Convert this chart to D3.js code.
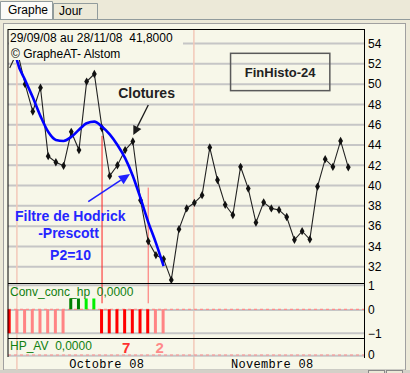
<!DOCTYPE html>
<html><head><meta charset="utf-8">
<script src="https://cdn.jsdelivr.net/npm/d3@7"></script>
<style>html,body{margin:0;padding:0;background:#ece9d8;overflow:hidden}svg{display:block}</style>
</head><body>
<svg id="c" width="410" height="373"></svg>
<script>
// ---------- data ----------
const closes = [51.6, 53.2, 50.0, 47.3, 49.65, 42.9, 42.3, 41.95, 45.3, 43.5,
  50.25, 51.0, 45.65, 40.95, 42.0, 43.5, 44.35, 38.55, 34.5, 33.15,
  32.75, 30.7, 35.7, 37.75, 38.3, 39.05, 43.75, 40.55, 38.1, 37.1,
  41.85, 39.7, 36.35, 38.35, 37.75, 37.6, 36.9, 34.65, 35.5, 34.7,
  39.9, 42.6, 41.85, 44.4, 41.8];
const hpFilter = [56.4, 52.2, 50.4, 48.7, 46.85, 45.3, 44.5, 44.4, 44.8, 45.5,
  46.15, 46.3, 45.8, 45.05, 44.0, 42.7, 40.95, 38.75, 36.4, 34.35, 32.05];
const convValues = [-1, -1, -1, -1, -1, -1, -1, -1, 0.45, 0.45, 0.45, 0.45,
  -1, -1, -1, -1, -1, -1, -1, -1, -1];
const convStrong = [1, 0, 0, 0, 0, 0, 0, 0, 1, 1, 0, 0, 1, 1, 1, 1, 1, 1, 1, 0, 0];
const signalIdx = [12, 18];
const signalTop = [44.9, 39.8];
const signalBottom = [0.25, 0.25];
const mainTicks = [32, 34, 36, 38, 40, 42, 44, 46, 48, 50, 52, 54];
const panel1Ticks = [1, 0, -1];
const panel2Ticks = [0];
const monthLabels = ["Octobre 08", "Novembre 08"];
const monthStart = [2, 25];
const monthEnd = [24, 44];
const monthSeparators = [1, 24];
const hpAvLabels = ["7", "2"];
const hpAvPos = [15.15, 19.5];

// ---------- geometry ----------
const L = 8, R = 364, T = 29, mainB = 283, p1B = 338, p2B = 357, rowB = 370;
const cream = "#f7f7e9";
const svg = d3.select("#c");
const x = d3.scaleLinear().domain([0, 44]).range([9.7, 348.3]);
const yM = d3.scaleLinear().domain([32, 44]).range([266.7, 145]);
const y1 = d3.scaleLinear().domain([-1, 1]).range([333.3, 285.3]);
const y2 = d3.scaleLinear().domain([0, 1]).range([355, 331]);
const FONT = "'Liberation Sans', Arial, sans-serif";

// background & tabs
svg.append("rect").attr("width", 410).attr("height", 373).attr("fill", "#ece9d8");
svg.append("path").attr("d", "M0.5,19 V1.5 H52.5 V19").attr("fill", "#fbfbf8").attr("stroke", "#919b9c");
svg.append("path").attr("d", "M53.5,19 V3.5 H97.5 V19").attr("fill", "#ece9d8").attr("stroke", "#919b9c");
svg.append("text").attr("x", 8).attr("y", 13.5).text("Graphe").attr("font-family", FONT).attr("font-size", 12).attr("fill", "#000");
svg.append("text").attr("x", 59).attr("y", 14.5).text("Jour").attr("font-family", FONT).attr("font-size", 12).attr("fill", "#000");
svg.append("rect").attr("x", 0).attr("y", 19).attr("width", 410).attr("height", 4).attr("fill", "#ece9d8");
svg.append("line").attr("x1", 0).attr("x2", 410).attr("y1", 19.5).attr("y2", 19.5).attr("stroke", "#919b9c");
svg.append("rect").attr("x", 3.5).attr("y", 23.5).attr("width", 402).attr("height", rowB - 23.5)
  .attr("fill", cream).attr("stroke", "#a0a0a0");
svg.append("rect").attr("x", 0).attr("y", rowB).attr("width", 410).attr("height", 3).attr("fill", "#d4d0c8");
svg.append("rect").attr("x", 368.5).attr("y", rowB + 0.5).attr("width", 16).attr("height", 3).attr("fill", "#ece9d8").attr("stroke", "#888");
svg.append("rect").attr("x", 386.5).attr("y", rowB + 0.5).attr("width", 16).attr("height", 3).attr("fill", "#ece9d8").attr("stroke", "#888");

// gridlines main
svg.append("g").selectAll("line").data(mainTicks).join("line")
  .attr("x1", L).attr("x2", R).attr("y1", d => yM(d)).attr("y2", d => yM(d))
  .attr("stroke", "#c6c6c6").attr("stroke-width", 2);

// month separators
svg.append("g").selectAll("line").data(monthSeparators).join("line")
  .attr("x1", d => x(d) - 0.5).attr("x2", d => x(d) - 0.5).attr("y1", T).attr("y2", rowB)
  .attr("stroke", "#f3c9b9").attr("stroke-width", 1.5);

// panel gridlines
[1, -1].forEach(v => {
  svg.append("line").attr("x1", L).attr("x2", R).attr("y1", y1(v)).attr("y2", y1(v))
    .attr("stroke", "#c6c6c6").attr("stroke-width", 2);
});
function zeroLine(yy) {
  svg.append("line").attr("x1", L).attr("x2", R).attr("y1", yy + 0.8).attr("y2", yy + 0.8)
    .attr("stroke", "#c6c6c6").attr("stroke-width", 2);
  svg.append("line").attr("x1", L).attr("x2", R).attr("y1", yy).attr("y2", yy)
    .attr("stroke", "#ff8c8c").attr("stroke-width", 1.2).attr("stroke-dasharray", "3,3");
}
zeroLine(y1(0));
zeroLine(y2(0));

// bars in panel 1
const barData = convValues.map((v, i) => ({ i, v, s: convStrong[i] }));
svg.append("g").selectAll("rect").data(barData).join("rect")
  .attr("x", d => x(d.i) - 2)
  .attr("width", 3)
  .attr("y", d => Math.min(y1(0), y1(d.v)))
  .attr("height", d => Math.abs(y1(d.v) - y1(0)))
  .attr("fill", d => d.v < 0 ? (d.s ? "#ff0000" : "#ff8484") : (d.s ? "#008000" : "#00f000"));

// signal lines
svg.append("g").selectAll("line").data(signalIdx).join("line")
  .attr("x1", d => x(d)).attr("x2", d => x(d))
  .attr("y1", (d, k) => yM(signalTop[k])).attr("y2", (d, k) => y1(signalBottom[k]))
  .attr("stroke", (d, k) => k === 0 ? "#ff2020" : "#ff6a6a").attr("stroke-width", 1);

// clip for main
svg.append("clipPath").attr("id", "mclip").append("rect").attr("x", L).attr("y", T).attr("width", R - L).attr("height", mainB - T);
const gm = svg.append("g").attr("clip-path", "url(#mclip)");

gm.append("path").datum(closes)
  .attr("d", d3.line().x((d, i) => x(i)).y(d => yM(d)))
  .attr("fill", "none").attr("stroke", "#222").attr("stroke-width", 1.1);
gm.append("g").selectAll("path").data(closes.map((v, i) => ({ v, i })).slice(1)).join("path")
  .attr("transform", d => `translate(${x(d.i)},${yM(d.v)})`)
  .attr("d", d3.symbol(d3.symbolDiamond, 20))
  .attr("fill", "#111");
gm.append("path").datum(hpFilter)
  .attr("d", d3.line().x((d, i) => x(i)).y(d => yM(d)).curve(d3.curveMonotoneX))
  .attr("fill", "none").attr("stroke", "#0000ff").attr("stroke-width", 2.6);

// top-left info boxes (opaque background)
svg.append("rect").attr("x", 9).attr("y", 30).attr("width", 174).attr("height", 15).attr("fill", cream);
svg.append("rect").attr("x", 9).attr("y", 45).attr("width", 111).attr("height", 15).attr("fill", cream);
svg.append("text").attr("x", 10).attr("y", 41.5).text("29/09/08 au 28/11/08  41,8000")
  .attr("font-family", FONT).attr("font-size", 12).attr("fill", "#000").attr("xml:space", "preserve");
svg.append("text").attr("x", 11).attr("y", 57.5).text("© GrapheAT- Alstom")
  .attr("font-family", FONT).attr("font-size", 12).attr("fill", "#000");

// FinHisto box
svg.append("rect").attr("x", x(28.7)).attr("y", yM(53.04)).attr("width", x(41.6) - x(28.7)).attr("height", yM(49.36) - yM(53.04))
  .attr("fill", "none").attr("stroke", "#5a5a5a").attr("stroke-width", 1.5);
svg.append("text").attr("x", (x(28.7) + x(41.6)) / 2).attr("y", yM(50.66)).attr("text-anchor", "middle")
  .text("FinHisto-24").attr("font-family", FONT).attr("font-weight", "bold").attr("font-size", 13).attr("fill", "#222");

// arrows
function arrow(t0, t1, color, w, hl, hw) {
  const ax = x(t0[0]), ay = yM(t0[1]), bx = x(t1[0]), by = yM(t1[1]);
  const dx = bx - ax, dy = by - ay, len = Math.hypot(dx, dy), ux = dx / len, uy = dy / len;
  const baseX = bx - ux * hl, baseY = by - uy * hl;
  svg.append("line").attr("x1", ax).attr("y1", ay).attr("x2", baseX).attr("y2", baseY)
    .attr("stroke", color).attr("stroke-width", w);
  svg.append("path").attr("d", `M${bx},${by}L${baseX - uy * hw / 2},${baseY + ux * hw / 2}L${baseX + uy * hw / 2},${baseY - ux * hw / 2}Z`)
    .attr("fill", color);
}
arrow([18.01, 47.94], [16.06, 44.99], "#1a1a1a", 1.3, 9, 9);
arrow([10.21, 38.41], [15.63, 41.14], "#2020ff", 1.6, 11, 10);

svg.append("text").attr("x", x(17.78)).attr("y", yM(48.59)).attr("text-anchor", "middle")
  .text("Clotures").attr("font-family", FONT).attr("font-weight", "bold").attr("font-size", 14).attr("fill", "#222");
const blueTxt = [["Filtre de Hodrick", 7.87, 36.5], ["-Prescott", 7.64, 34.83], ["P2=10", 7.9, 32.66]];
svg.append("g").selectAll("text").data(blueTxt).join("text")
  .attr("x", d => x(d[1])).attr("y", d => yM(d[2])).attr("text-anchor", "middle")
  .text(d => d[0]).attr("font-family", FONT).attr("font-weight", "bold").attr("font-size", 14).attr("fill", "#2525ff");

// panel labels
svg.append("text").attr("x", 10).attr("y", 296).text("Conv_conc_hp  0,0000").attr("xml:space", "preserve")
  .attr("font-family", FONT).attr("font-size", 12).attr("fill", "#108010");
svg.append("text").attr("x", 10).attr("y", 349.5).text("HP_AV  0,0000").attr("xml:space", "preserve")
  .attr("font-family", FONT).attr("font-size", 12).attr("fill", "#108010");
svg.append("g").selectAll("text").data(hpAvLabels).join("text")
  .attr("x", (d, k) => x(hpAvPos[k])).attr("y", 352.5).attr("text-anchor", "middle")
  .text(d => d).attr("font-family", FONT).attr("font-weight", "bold").attr("font-size", 15)
  .attr("fill", (d, k) => k === 0 ? "#ff3030" : "#ff8a8a");

// frames
const frame = svg.append("g").attr("stroke", "#000").attr("stroke-width", 1);
frame.append("line").attr("x1", L).attr("x2", L).attr("y1", T).attr("y2", p2B);
frame.append("line").attr("x1", R + 0.5).attr("x2", R + 0.5).attr("y1", T).attr("y2", p2B + 1);
frame.append("line").attr("x1", L).attr("x2", R + 0.5).attr("y1", T + 0.5).attr("y2", T + 0.5);
frame.append("line").attr("x1", L).attr("x2", R + 0.5).attr("y1", mainB + 0.5).attr("y2", mainB + 0.5);
frame.append("line").attr("x1", L).attr("x2", R + 0.5).attr("y1", p1B + 0.5).attr("y2", p1B + 0.5);

// right axes
function rightAxis(scale, ticks) {
  const g = svg.append("g").attr("transform", `translate(${R + 1},0)`)
    .call(d3.axisRight(scale).tickValues(ticks).tickSize(0).tickPadding(3).tickFormat(d3.format("d")));
  g.select(".domain").remove();
  g.selectAll("text").attr("font-family", FONT).attr("font-size", 12).attr("fill", "#000");
}
rightAxis(yM, mainTicks);
rightAxis(y1, panel1Ticks);
rightAxis(y2, panel2Ticks);

// month labels
svg.append("g").selectAll("text").data(monthLabels).join("text")
  .attr("x", (d, k) => x((monthStart[k] + monthEnd[k]) / 2) - 3).attr("y", 367.5).attr("text-anchor", "middle")
  .text(d => d).attr("font-family", "'Liberation Mono', 'Courier New', monospace").attr("font-size", 12)
  .attr("letter-spacing", 0.3).attr("fill", "#000");
</script>
</body></html>
